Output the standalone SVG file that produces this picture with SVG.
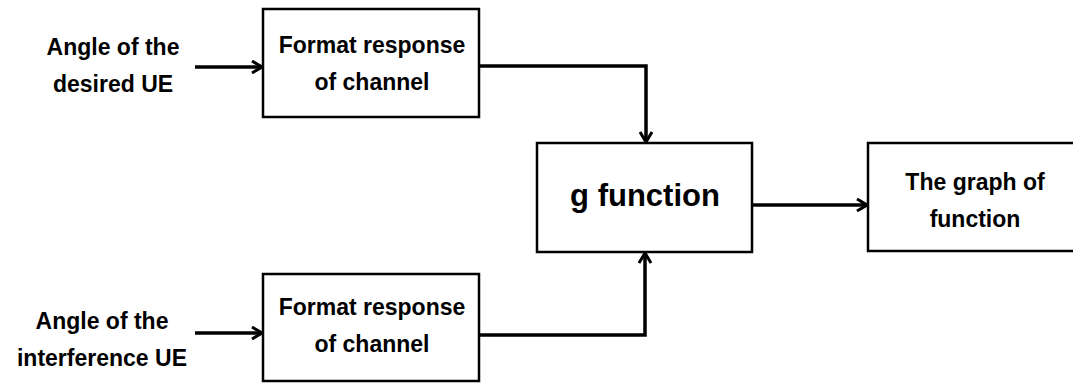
<svg xmlns="http://www.w3.org/2000/svg" width="1073" height="383" viewBox="0 0 1073 383">
<style>
.box{fill:#fff;stroke:#000;stroke-width:2.5}
.t{font-family:"Liberation Sans",Arial,sans-serif;font-weight:bold;font-size:23px;fill:#000;text-anchor:middle}
.big{font-size:31px}
.c{fill:none;stroke:#000;stroke-width:3.5;stroke-linejoin:miter}
</style>
<defs>
<marker id="ah" viewBox="0 0 12 14" refX="11" refY="7" markerWidth="12" markerHeight="14" markerUnits="userSpaceOnUse" orient="auto">
<path d="M1,1 L11,7 L1,13" fill="none" stroke="#000" stroke-width="3"/>
</marker>
</defs>
<rect width="1073" height="383" fill="#fff"/>
<g id="label-desired">
<text class="t" x="113" y="55">Angle of the</text>
<text class="t" x="113" y="92">desired UE</text>
</g>
<g id="label-interference">
<text class="t" x="102" y="329">Angle of the</text>
<text class="t" x="102" y="366">interference UE</text>
</g>
<g id="box-top">
<rect class="box" x="263" y="9" width="216" height="108"/>
<text class="t" x="372" y="53">Format response</text>
<text class="t" x="372" y="90">of channel</text>
</g>
<g id="box-bottom">
<rect class="box" x="263" y="274" width="216" height="107"/>
<text class="t" x="372" y="315">Format response</text>
<text class="t" x="372" y="352">of channel</text>
</g>
<g id="box-g">
<rect class="box" x="537" y="143" width="215" height="109"/>
<text class="t big" x="645" y="206">g function</text>
</g>
<g id="box-graph">
<rect class="box" x="868" y="143" width="230" height="108"/>
<text class="t" x="975" y="190">The graph of</text>
<text class="t" x="975" y="227">function</text>
</g>
<g id="connectors">
<path class="c" d="M195,67 H262" marker-end="url(#ah)"/>
<path class="c" d="M195,333 H262" marker-end="url(#ah)"/>
<path class="c" d="M479,66 H646 V142" marker-end="url(#ah)"/>
<path class="c" d="M479,335 H645 V253" marker-end="url(#ah)"/>
<path class="c" d="M752,205 H867" marker-end="url(#ah)"/>
</g>
</svg>
